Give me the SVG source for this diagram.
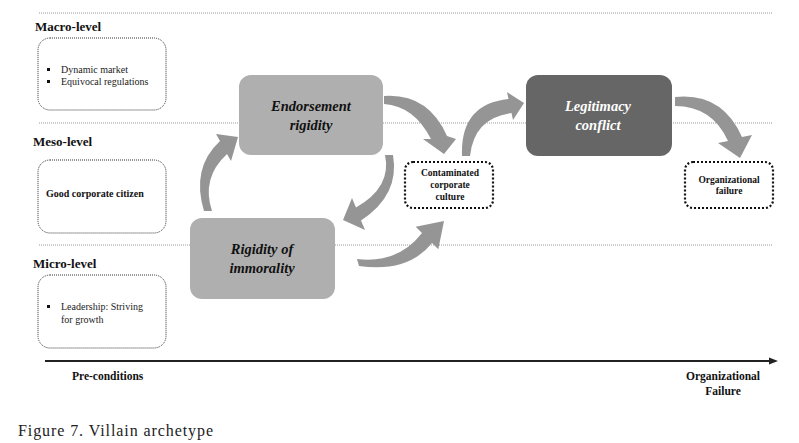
<svg xmlns="http://www.w3.org/2000/svg" width="799" height="443" viewBox="0 0 799 443">
<style>
.lvl{font-family:"Liberation Serif",serif;font-weight:bold;font-size:13px;fill:#111}
.sm{font-family:"Liberation Serif",serif;font-size:10px;fill:#222}
.smb{font-family:"Liberation Serif",serif;font-weight:bold;font-size:10px;fill:#111}
.ctx{font-family:"Liberation Serif",serif;font-weight:bold;font-size:9.5px;fill:#111;text-anchor:middle}
.big{font-family:"Liberation Serif",serif;font-weight:bold;font-style:italic;font-size:14.5px;text-anchor:middle}
.ax{font-family:"Liberation Serif",serif;font-weight:bold;font-size:11.5px;fill:#111}
.sep{stroke:#9a9a9a;stroke-width:1;stroke-dasharray:1 1;fill:none}
.pre{fill:#fff;stroke:#333;stroke-width:1;stroke-dasharray:1 1}
.out{fill:#fff;stroke:#111;stroke-width:2.2;stroke-dasharray:2 2}
.arr{fill:#959595}
</style>
<rect width="799" height="443" fill="#fff"/>
<g id="separators">
<line class="sep" x1="39" y1="13" x2="772" y2="13"/>
<line class="sep" x1="39" y1="123" x2="772" y2="123"/>
<line class="sep" x1="39" y1="245" x2="772" y2="245"/>
</g>
<g id="level-labels">
<text class="lvl" x="35" y="31">Macro-level</text>
<text class="lvl" x="33" y="146">Meso-level</text>
<text class="lvl" x="33" y="268">Micro-level</text>
</g>
<g id="macro-box">
<rect class="pre" x="38" y="38" width="128" height="72" rx="12"/>
<rect x="47" y="68" width="3" height="3" fill="#111"/>
<rect x="47" y="80" width="3" height="3" fill="#111"/>
<text class="sm" x="61" y="73">Dynamic market</text>
<text class="sm" x="61" y="85">Equivocal regulations</text>
</g>
<g id="meso-box">
<rect class="pre" x="38" y="160" width="128" height="73" rx="12"/>
<text class="smb" x="46" y="197">Good corporate citizen</text>
</g>
<g id="micro-box">
<rect class="pre" x="38" y="275" width="128" height="73" rx="12"/>
<rect x="47" y="305" width="3" height="3" fill="#111"/>
<text class="sm" x="61" y="310">Leadership: Striving</text>
<text class="sm" x="61" y="323">for growth</text>
</g>
<g id="endorsement-rigidity">
<rect x="239" y="75" width="144" height="80" rx="12" fill="#afafaf"/>
<text class="big" x="311" y="111" fill="#111">Endorsement</text>
<text class="big" x="311" y="130" fill="#111">rigidity</text>
</g>
<g id="rigidity-of-immorality">
<rect x="190" y="218" width="145" height="81" rx="12" fill="#afafaf"/>
<text class="big" x="262" y="254" fill="#111">Rigidity of</text>
<text class="big" x="262" y="273" fill="#111">immorality</text>
</g>
<g id="legitimacy-conflict">
<rect x="526" y="75" width="146" height="81" rx="12" fill="#666"/>
<text class="big" x="598" y="111" fill="#fff">Legitimacy</text>
<text class="big" x="598" y="130" fill="#fff">conflict</text>
</g>
<g id="contaminated-culture">
<rect class="out" x="405" y="162" width="88" height="46" rx="8"/>
<text class="ctx" x="450" y="176">Contaminated</text>
<text class="ctx" x="450" y="188">corporate</text>
<text class="ctx" x="450" y="200">culture</text>
</g>
<g id="organizational-failure">
<rect class="out" x="685" y="162" width="88" height="46" rx="8"/>
<text class="ctx" x="729" y="183">Organizational</text>
<text class="ctx" x="729" y="194">failure</text>
</g>
<g id="connectors">
<path class="arr" d="M204,211 Q191,168 220,141 L216,134 L238,137 L231,161 L227,154 Q201,178 212,211 Z"/>
<path class="arr" d="M385,155 Q392,187 356,207.5 L352,198 L343,220 L365,230 L361,220.5 Q400,195 393,155 Z"/>
<path class="arr" d="M384,96 Q428,93 447,136 L456,139 L444,154 L423,139 L431,139 Q414,106 384,104 Z"/>
<path class="arr" d="M462,156 Q460,104 508.5,99 L507,92 L524,103 L513,120 L511.5,113 Q474,118 470,156 Z"/>
<path class="arr" d="M357,259 Q398,264 422,233 L415.7,226.7 L444,221 L438.3,249.3 L432,243 Q408,273 359,266 Z"/>
<path class="arr" d="M675,97 Q722,92 742,137 L752,135 L740,158 L718,143 L728,141 Q712,106 675,106 Z"/>
</g>
<g id="axis">
<line x1="45" y1="361" x2="771" y2="361" stroke="#222" stroke-width="2"/>
<path d="M778,361 L769,357.5 L769,364.5 Z" fill="#222"/>
<text class="ax" x="72" y="380">Pre-conditions</text>
<text class="ax" x="723" y="380" text-anchor="middle">Organizational</text>
<text class="ax" x="723" y="395" text-anchor="middle">Failure</text>
</g>
<text x="18" y="436" font-family="Liberation Serif, serif" font-size="16" fill="#222" textLength="195">Figure 7. Villain archetype</text>
</svg>
